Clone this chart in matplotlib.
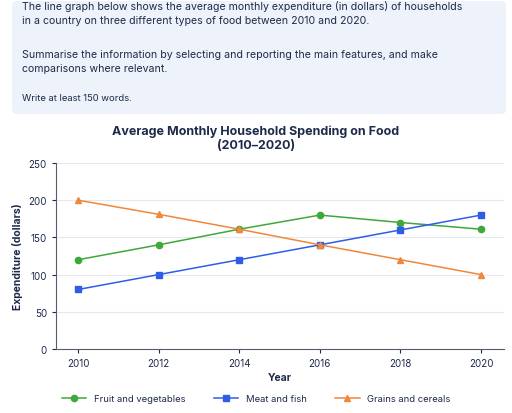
import matplotlib
matplotlib.use("Agg")
import matplotlib.pyplot as plt
from matplotlib.patches import FancyBboxPatch

years = [2010, 2012, 2014, 2016, 2018, 2020]
fruit = [120, 140, 161, 180, 170, 161]
meat = [80, 100, 120, 140, 160, 180]
grains = [200, 181, 161, 140, 120, 100]
yticks = [0, 50, 100, 150, 200, 250]

plt.rcParams['font.family'] = ['Inter', 'DejaVu Sans']
navy = '#1e2a4a'
fig = plt.figure(figsize=(5.12, 4.14), dpi=100)
fig.patch.set_facecolor('white')

box = FancyBboxPatch((12/512, 1-115/414), 494/512, 113/414, boxstyle="round,pad=0,rounding_size=0.01",
                     transform=fig.transFigure, facecolor='#eef2fa', edgecolor='none')
fig.patches.append(box)
fig.text(22/512, 1-13/414, "The line graph below shows the average monthly expenditure (in dollars) of households\nin a country on three different types of food between 2010 and 2020.",
         fontsize=7.6, color=navy, va='center', linespacing=1.5, transform=fig.transFigure)
fig.text(22/512, 1-62/414, "Summarise the information by selecting and reporting the main features, and make\ncomparisons where relevant.",
         fontsize=7.6, color=navy, va='center', linespacing=1.5)
fig.text(22/512, 1-99/414, "Write at least 150 words.", fontsize=6.8, color=navy, va='center')
fig.text(0.5, 1-139/414, "Average Monthly Household Spending on Food\n(2010–2020)", fontsize=9, fontweight='bold',
         color=navy, ha='center', va='center', linespacing=1.2)

ax = fig.add_axes([56/512, 1-350/414, 448/512, 186/414])
ax.plot(years, fruit, color='#3fa83a', marker='o', markersize=4.5, lw=1.1, label='Fruit and vegetables')
ax.plot(years, meat, color='#2f5de8', marker='s', markersize=4.5, lw=1.1, label='Meat and fish')
ax.plot(years, grains, color='#f0883a', marker='^', markersize=5, lw=1.1, label='Grains and cereals')
ax.set_xlim(2009.45, 2020.57)
ax.set_ylim(0, 250)
ax.set_xticks(years)
ax.set_yticks(yticks)
ax.grid(axis='y', color='#e6e9f0', lw=0.8)
ax.set_axisbelow(True)
for s in ['top', 'right']:
    ax.spines[s].set_visible(False)
for s in ['left', 'bottom']:
    ax.spines[s].set_color('#555c6a')
ax.tick_params(labelsize=7, colors=navy, length=3)
ax.set_xlabel('Year', fontsize=7.5, fontweight='bold', color=navy, labelpad=3)
ax.set_ylabel('Expenditure (dollars)', fontsize=7.5, fontweight='bold', color=navy)
fig.legend(loc='center', bbox_to_anchor=(0.5, 1-400/414), ncol=3, frameon=False, fontsize=6.8,
           labelcolor=navy, columnspacing=3, handlelength=2.6)
fig.savefig('out.png', dpi=100)
